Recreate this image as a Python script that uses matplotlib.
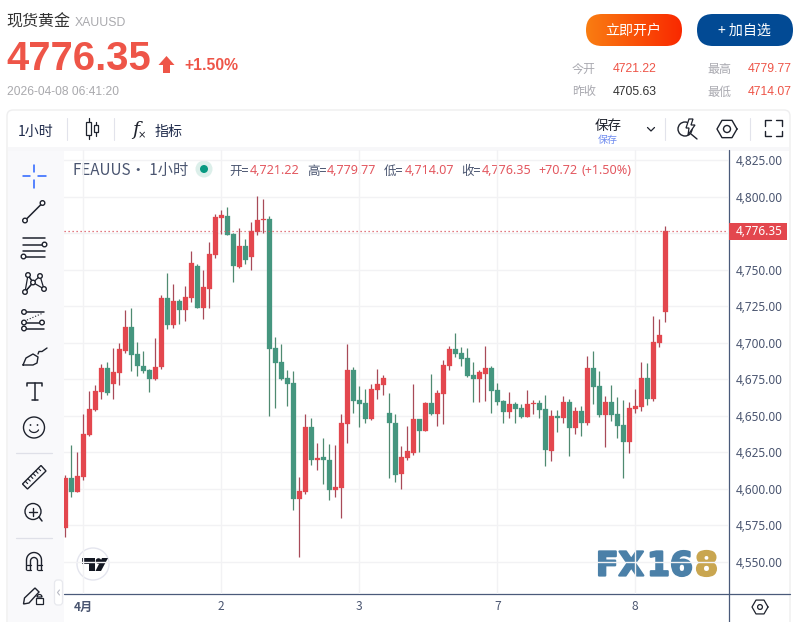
import numpy as np
import matplotlib
matplotlib.use("Agg")
import matplotlib.pyplot as plt
from matplotlib.patches import Circle, FancyBboxPatch, Polygon, Rectangle, Wedge
from matplotlib.ticker import FuncFormatter
from matplotlib.transforms import blended_transform_factory
import matplotlib.patheffects as pe

plt.rcParams['font.family'] = ['Noto Sans CJK SC', 'DejaVu Sans']

# hourly candles
opens = [4573.3, 4607.5, 4597.9, 4608.2, 4636.9, 4654.0, 4666.3, 4682.7, 4671.8, 4679.3,
         4694.4, 4710.8, 4692.3, 4684.1, 4681.4, 4675.2, 4683.4, 4730.6, 4712.1, 4728.6,
         4722.4, 4730.6, 4752.5, 4723.8, 4736.8, 4760.0, 4785.3, 4786.7, 4774.4, 4751.8,
         4766.2, 4758.7, 4775.8, 4784.0, 4784.6, 4696.4, 4686.8, 4675.9, 4672.5, 4593.1,
         4597.9, 4642.4, 4619.8, 4621.9, 4619.8, 4599.3, 4600.6, 4644.4, 4681.4, 4660.8,
         4658.8, 4647.8, 4667.7, 4671.1, 4651.9, 4645.1, 4610.2, 4621.2, 4624.6, 4647.8,
         4639.6, 4658.8, 4651.3, 4664.9, 4684.1, 4695.7, 4693.0, 4689.6, 4677.9, 4675.2,
         4678.6, 4682.7, 4667.7, 4660.2, 4652.6, 4658.1, 4655.4, 4649.2, 4658.1, 4658.8,
         4654.7, 4626.0, 4649.9, 4648.5, 4659.5, 4641.7, 4653.3, 4645.1, 4682.7, 4670.4,
         4650.6, 4659.5, 4651.3, 4643.7, 4632.1, 4654.7, 4656.1, 4675.9, 4661.5, 4699.8,
         4721.22]
highs = [4609.5, 4630.1, 4625.3, 4651.3, 4667.0, 4671.1, 4685.5, 4686.8, 4696.4, 4699.8,
         4722.4, 4723.8, 4700.5, 4694.4, 4682.0, 4703.2, 4732.7, 4747.7, 4740.2, 4729.9,
         4738.8, 4762.8, 4753.9, 4749.8, 4768.9, 4788.1, 4790.8, 4792.9, 4775.1, 4778.5,
         4771.0, 4782.6, 4800.4, 4798.3, 4786.7, 4703.9, 4699.1, 4681.4, 4680.7, 4608.2,
         4651.3, 4648.5, 4631.4, 4634.8, 4630.7, 4630.1, 4651.3, 4699.1, 4683.4, 4670.4,
         4668.4, 4671.8, 4682.0, 4677.9, 4665.6, 4651.3, 4629.4, 4643.1, 4671.8, 4647.8,
         4659.5, 4678.6, 4667.7, 4688.2, 4697.8, 4706.7, 4697.1, 4696.4, 4686.8, 4681.4,
         4697.8, 4684.1, 4672.5, 4660.8, 4666.3, 4659.5, 4658.1, 4667.7, 4660.8, 4660.8,
         4664.3, 4654.0, 4654.0, 4663.6, 4661.5, 4656.1, 4656.7, 4690.9, 4694.4, 4680.7,
         4663.6, 4671.1, 4662.9, 4660.8, 4659.5, 4668.4, 4686.8, 4686.1, 4718.3, 4716.2,
         4779.77]
lows = [4567.1, 4594.5, 4597.9, 4606.1, 4636.2, 4653.3, 4661.5, 4664.3, 4661.5, 4671.1,
        4693.0, 4680.7, 4677.3, 4679.3, 4666.3, 4674.5, 4682.0, 4709.4, 4710.1, 4712.8,
        4714.9, 4727.9, 4723.8, 4716.2, 4723.8, 4758.0, 4774.4, 4773.7, 4741.6, 4751.1,
        4753.9, 4749.8, 4773.7, 4775.1, 4649.9, 4655.4, 4674.5, 4656.7, 4585.6, 4553.5,
        4596.5, 4616.4, 4613.0, 4603.4, 4592.4, 4594.5, 4580.1, 4631.4, 4651.9, 4642.4,
        4645.1, 4647.2, 4661.5, 4664.3, 4607.5, 4604.8, 4600.0, 4619.8, 4623.2, 4625.3,
        4639.6, 4650.6, 4643.1, 4644.4, 4681.4, 4690.3, 4684.1, 4676.6, 4659.5, 4659.5,
        4660.2, 4651.9, 4657.4, 4645.1, 4648.5, 4645.1, 4648.5, 4649.2, 4651.3, 4648.5,
        4615.7, 4619.1, 4639.0, 4645.1, 4622.5, 4637.6, 4636.2, 4643.7, 4658.1, 4649.2,
        4628.7, 4646.5, 4634.8, 4607.5, 4624.6, 4651.9, 4653.3, 4657.4, 4660.2, 4697.1,
        4714.07]
closes = [4607.5, 4597.9, 4608.9, 4637.6, 4654.7, 4667.0, 4682.7, 4665.6, 4680.0, 4695.7,
          4710.8, 4691.6, 4684.1, 4680.7, 4675.2, 4683.4, 4730.6, 4712.1, 4728.6, 4722.4,
          4731.3, 4754.5, 4723.8, 4738.1, 4760.7, 4786.0, 4787.4, 4773.7, 4752.5, 4766.2,
          4756.6, 4776.4, 4784.0, 4784.6, 4695.7, 4686.1, 4675.2, 4671.8, 4593.1, 4598.6,
          4642.4, 4619.8, 4621.2, 4619.8, 4599.3, 4601.3, 4645.1, 4681.4, 4660.2, 4658.1,
          4647.8, 4668.4, 4671.8, 4675.9, 4645.1, 4609.5, 4621.9, 4626.0, 4647.8, 4639.6,
          4658.8, 4651.3, 4665.6, 4684.8, 4695.7, 4692.3, 4688.9, 4677.3, 4675.2, 4680.0,
          4682.7, 4667.0, 4659.5, 4652.6, 4658.1, 4654.7, 4649.2, 4658.1, 4658.8, 4654.0,
          4626.6, 4649.9, 4648.5, 4659.5, 4641.7, 4653.3, 4645.1, 4682.7, 4669.7, 4650.6,
          4659.5, 4650.6, 4643.1, 4632.1, 4655.4, 4656.7, 4675.9, 4661.5, 4700.5, 4705.6,
          4776.35]

price_ticks = [4550, 4575, 4600, 4625, 4650, 4675, 4700, 4725, 4750, 4775, 4800, 4825]
time_tick_pos = [3, 26, 49, 72, 95]
time_tick_labels = ['4月', '2', '3', '7', '8']

last_price = 4776.35

RED = '#e3474e'
GREEN = '#45967f'
RED_WICK = '#a84a58'
GREEN_WICK = '#4f8a70'
TEXT = '#4a5570'
ICON = '#1e222d'
GRID = '#f2f2f4'

fig = plt.figure(figsize=(8.01, 6.22), dpi=100, facecolor='white')

# page chrome is drawn on a full figure axes in pixel coordinates
bg = fig.add_axes([0, 0, 1, 1], zorder=0)
bg.set_xlim(0, 801)
bg.set_ylim(622, 0)
bg.axis('off')


def px(v):
    return v * 0.72


def line(xs, ys, color=ICON, lw=1.1, **kw):
    bg.plot(xs, ys, color=color, lw=lw, solid_capstyle='round', **kw)


def ring(x, y, r=2.3, color=ICON, lw=1.0):
    bg.add_patch(Circle((x, y), r, fc='white', ec=color, lw=lw, zorder=4))


# panel
bg.add_patch(FancyBboxPatch((7, 110), 783, 530, boxstyle='round,pad=0,rounding_size=6',
                            fc='white', ec='#eeeeef', lw=1))
bg.add_patch(Rectangle((8, 147), 781, 4, fc='#f7f7f9', ec='none'))
bg.add_patch(Rectangle((8, 151), 56, 471, fc='#f9f9fb', ec='none'))

# header
bg.text(6.5, 22, '现货黄金', fontsize=px(16), color='#333333', va='center')
bg.text(75, 23, 'XAUUSD', fontsize=px(12.2), color='#a9a9ad', va='center', family='Liberation Sans')
bg.text(6, 58.5, '4776.35', fontsize=px(40), color='#ee5548', fontweight='bold', va='center',
        family='Liberation Sans')
bg.add_patch(Polygon([(166.5, 56), (174.5, 65), (170, 65), (170, 73), (163, 73), (163, 65), (158.5, 65)],
                     fc='#ee5548', ec='none'))
bg.text(184, 66, '+1.50%', fontsize=px(15.8), color='#ee5548', fontweight='bold', va='center',
        family='Liberation Sans')
bg.text(7, 92, '2026-04-08 06:41:20', fontsize=px(12), color='#a9a9ad', va='center',
        family='Liberation Sans')

# buttons
btn = FancyBboxPatch((586, 14), 96, 32, boxstyle='round,pad=0,rounding_size=16', fc='none', ec='none')
bg.add_patch(btn)
grad = np.linspace(0, 1, 96)[None, :, None]
rgb = (1 - grad) * np.array([0.98, 0.49, 0.07]) + grad * np.array([0.98, 0.16, 0.0])
im = bg.imshow(rgb, extent=(586, 682, 46, 14), aspect='auto', zorder=1)
im.set_clip_path(btn)
bg.set_xlim(0, 801)
bg.set_ylim(622, 0)
bg.text(633.5, 31, '立即开户', fontsize=px(14), color='white', ha='center', va='center', zorder=3)
bg.add_patch(FancyBboxPatch((697, 14), 96, 32, boxstyle='round,pad=0,rounding_size=16', fc='#024a94', ec='none'))
bg.text(744.5, 31, '+ 加自选', fontsize=px(14), color='white', ha='center', va='center')

# quote table
for x, y, s in [(572, 69, '今开'), (707, 69, '最高'), (572, 92, '昨收'), (707, 92, '最低')]:
    bg.text(x, y, s, fontsize=px(12), color='#a9a9b0', va='center')
for x, y, s, c in [(613, 69, '4721.22', '#ee5548'), (748, 69, '4779.77', '#ee5548'),
                   (613, 92, '4705.63', '#333333'), (748, 92, '4714.07', '#ee5548')]:
    bg.text(x, y, s, fontsize=px(12.2), color=c, va='center', family='Liberation Sans')

# top toolbar
bg.text(18, 131.5, '1小时', fontsize=px(14), color='#1e2a4a', va='center')
for x in [67, 114, 665, 750]:
    line([x, x], [118, 140], color='#e2e3eb', lw=0.8)
for x, y0, y1, w0, w1 in [(88.5, 122, 135, 118, 139), (96, 125, 132, 122, 136)]:
    line([x, x], [w0, w1], lw=0.9)
    bg.add_patch(Rectangle((x - 2.3, y0), 4.6, y1 - y0, fc='white', ec=ICON, lw=0.9, zorder=3))
bg.text(132, 130, 'f', fontsize=px(19), color=ICON, style='italic', va='center', family='DejaVu Serif')
bg.text(138, 135, '×', fontsize=px(10), color=ICON, va='center', family='DejaVu Sans')
bg.text(155, 131.5, '指标', fontsize=px(14), color='#1e2a4a', va='center')
bg.text(595, 126, '保存', fontsize=px(13.5), color=ICON, va='center')
bg.text(598, 139.5, '保存', fontsize=px(10), color='#6f8cf0', va='center')
line([647.5, 651, 654.5], [127.5, 131, 127.5], lw=0.9)
ring(685, 129, 7, lw=1.0)
bg.add_patch(Polygon([(689, 119), (693, 119), (691, 125), (695, 125), (688, 135), (689, 128), (686, 128)],
                     fc='white', ec=ICON, lw=0.9, zorder=5))
line([691, 697], [134, 139], lw=1.0)
hex_t = np.radians(np.arange(0, 361, 60))
line(727 + 10 * np.cos(hex_t), 129 + 10 * np.sin(hex_t), lw=1.0)
bg.add_patch(Circle((727, 129), 3.5, fc='none', ec=ICON, lw=1.0))
for xs, ys in [([765, 765, 771], [126, 120, 120]), ([776, 782, 782], [120, 120, 126]),
               ([765, 765, 771], [131, 136, 136]), ([776, 782, 782], [136, 136, 131])]:
    line(xs, ys, lw=1.0)

# left drawing tools
BLUE = '#2962ff'
for xs, ys in [([23, 30], [176, 176]), ([38, 46], [176, 176]), ([34.3, 34.3], [165, 172]), ([34.3, 34.3], [180, 188])]:
    line(xs, ys, color=BLUE, lw=1.1)
line([25, 42.5], [220.5, 203])
ring(25, 220.5)
ring(42.5, 203)
for y, x0, x1 in [(238, 23, 45), (245, 23, 43), (250.5, 23, 45), (256.5, 25, 45)]:
    line([x0, x1], [y, y])
ring(44.5, 244.5)
ring(23.5, 256.5)
nodes = [(25, 292), (28, 275), (33, 282.5), (40, 276), (44, 289)]
line([p[0] for p in nodes] + [33, 25], [p[1] for p in nodes] + [282.5, 292], lw=0.9)
line([28, 33, 25], [275, 282.5, 292], lw=0.9)
for p in nodes:
    ring(p[0], p[1])
line([26, 44], [312, 312])
line([26, 44], [322.5, 322.5])
line([26, 44], [328.5, 328.5])
line([27, 43], [320, 313], lw=0.8, linestyle=':')
ring(24, 312)
ring(24, 322.5)
ring(42, 322.5)
ring(24, 328.5)
# brush
line([23, 26, 33, 38, 37, 33, 23], [365, 358, 354, 357, 363, 365, 365], lw=1.0)
line([38, 39, 42, 47], [354, 351.5, 351.5, 348], lw=1.0)
# text tool
line([27, 27, 42, 42], [386, 383, 383, 386])
line([34.5, 34.5], [383, 400])
line([31.5, 37.5], [400, 400])
bg.add_patch(Circle((34, 427.5), 10.5, fc='none', ec=ICON, lw=1.0))
bg.add_patch(Circle((30.5, 425), 0.9, fc=ICON, ec='none'))
bg.add_patch(Circle((37.5, 425), 0.9, fc=ICON, ec='none'))
a = np.radians(np.linspace(25, 155, 15))
line(34 + 5 * np.cos(a), 428 + 4.5 * np.sin(a), lw=0.9)
line([16, 52], [452.5, 452.5], color='#dfe0e8', lw=0.9)
bg.add_patch(Polygon([(22.5, 484), (41, 465.5), (46, 471), (27.5, 489)], fc='none', ec=ICON, lw=1.0))
for t in np.linspace(0.15, 0.85, 6):
    x0, y0 = 22.5 + t * 18.5, 484 - t * 18.5
    line([x0, x0 + 2.4], [y0, y0 + 2.4], lw=0.8)
bg.add_patch(Circle((33, 511.5), 8, fc='none', ec=ICON, lw=1.0))
line([39, 42], [517, 521])
line([29, 37], [511.5, 511.5], lw=1.0)
line([33, 33], [507.5, 515.5], lw=1.0)
line([16, 52], [537.5, 537.5], color='#dfe0e8', lw=0.9)
a = np.radians(np.linspace(180, 360, 20))
line(np.r_[26.5, 26.5 + 7.5 * (1 + np.cos(a)), 41.5], np.r_[570, 560 + 7.5 * np.sin(a), 570], lw=1.0)
line(np.r_[30.5, 30.5 + 3.5 * (1 + np.cos(a)), 37.5], np.r_[570, 561 + 3.5 * np.sin(a), 570], lw=1.0)
line([26.5, 30.5], [565, 565], lw=0.9)
line([37.5, 41.5], [565, 565], lw=0.9)
line([26.5, 30.5], [570, 570], lw=0.9)
line([37.5, 41.5], [570, 570], lw=0.9)
bg.add_patch(Polygon([(23.5, 604), (24.5, 598), (35, 588), (39, 592), (29, 603)], fc='none', ec=ICON, lw=1.0))
bg.add_patch(Rectangle((36, 598), 7, 6, fc='white', ec=ICON, lw=0.9, zorder=3))
bg.add_patch(Wedge((39.5, 597), 2.5, 180, 360, fc='none', ec=ICON, lw=0.9))
bg.add_patch(FancyBboxPatch((54.5, 580), 8, 25, boxstyle='round,pad=0,rounding_size=3', fc='white', ec='#e8e9ee', lw=0.9))
line([59.5, 57.5, 59.5], [590, 592.5, 595], color='#b8bac4', lw=0.8)

# price pane
left, right, top, bottom = 64, 728, 150, 594
ax = fig.add_axes([left / 801, 1 - bottom / 622, (right - left) / 801, (bottom - top) / 622], zorder=1)
ax.patch.set_alpha(0)

idx = np.arange(len(closes))
o, h, l, c = map(np.array, (opens, highs, lows, closes))
up = c >= o
for mask, col, wick in [(up, RED, RED_WICK), (~up, GREEN, GREEN_WICK)]:
    ax.vlines(idx[mask], l[mask], h[mask], color=wick, lw=0.9, zorder=2)
    ax.bar(idx[mask], np.abs(c - o)[mask], bottom=np.minimum(o, c)[mask], width=0.83,
           color=col, edgecolor=col, linewidth=0.2, zorder=3)

ax.axhline(last_price, color='#d9515c', lw=0.9, linestyle=(0, (1, 2.2)), zorder=4)

ax.set_xlim(-0.217, 110.45)
ax.set_ylim(4528.1, 4831.84)
ax.yaxis.tick_right()
ax.set_yticks(price_ticks)
# the 4,775 label sits under the last price tag
ax.yaxis.set_major_formatter(FuncFormatter(lambda v, _: '' if v == 4775 else f'{v:,.2f}'))
ax.set_xticks(time_tick_pos)
ax.set_xticklabels(time_tick_labels)
ax.grid(True, color=GRID, lw=1, zorder=0)
ax.set_axisbelow(True)
ax.tick_params(axis='y', length=0, pad=px(8), labelsize=px(11.8), labelcolor=TEXT)
ax.tick_params(axis='x', length=0, pad=px(6.5), labelsize=px(12), labelcolor=TEXT)
ax.get_xticklabels()[0].set_fontweight('bold')
for lab in ax.get_yticklabels():
    lab.set_family('Noto Sans')
for s in ax.spines.values():
    s.set_visible(False)

# last price tag on the scale
tag = blended_transform_factory(ax.transAxes, ax.transData)
ax.add_patch(Rectangle((1.0015, last_price - 5.8), 58 / 664, 11.6, transform=tag, fc='#e3474e', ec='none',
                       clip_on=False, zorder=5))
ax.annotate(f'{last_price:,.2f}', xy=(1, last_price), xycoords=tag, xytext=(px(8), 0),
            textcoords='offset points', va='center', ha='left', fontsize=px(11.8), color='white',
            fontweight='bold', family='Noto Sans', zorder=6)

# pane borders
line([64, 790], [593.5, 593.5], color='#4a5a7a', lw=0.9)
line([728.5, 728.5], [150, 622], color='#4a5a7a', lw=0.9)
line(760 + 8 * np.cos(hex_t), 607 + 8 * np.sin(hex_t), lw=0.9)
bg.add_patch(Circle((760, 607), 2.4, fc='none', ec=ICON, lw=0.9))

# legend row
bg.text(73, 170.5, 'FEAUUS· 1小时', fontsize=px(15.2), color=TEXT, va='center')
bg.add_patch(Circle((204, 169), 8.5, fc='#dcefea', ec='none'))
bg.add_patch(Circle((204, 169), 4, fc='#089981', ec='none'))
for x, s in [(229, '开='), (307, '高='), (384, '低='), (461, '收=')]:
    bg.text(x, 171, s, fontsize=px(12.5), color=TEXT, va='center')
for x, s in [(250, '4,721.22'), (327, '4,779.77'), (405, '4,714.07'), (482, '4,776.35'),
             (538, '+70.72'), (582, '(+1.50%)')]:
    bg.text(x, 171, s, fontsize=px(12.6), color='#e3575f', va='center', family='Noto Sans')

# TradingView badge
bg.add_patch(Circle((93, 564), 16, fc='white', ec='#e4e5ee', lw=1))
bg.add_patch(Polygon([(82, 558), (95, 558), (95, 571), (89, 571), (89, 563.5), (82, 563.5)], fc='#131722', ec='none'))
bg.add_patch(Circle((98.5, 561), 2.8, fc='#131722', ec='none'))
bg.add_patch(Polygon([(101, 571), (95.5, 571), (102, 558), (108, 558)], fc='#131722', ec='none'))

# FX168 watermark
for x, s, col in [(596, 'FX', '#4b80a8'), (647, '16', '#4b80a8'), (695, '8', '#c9a650')]:
    bg.text(x, 566, s, fontsize=px(33), color=col, fontweight='bold', va='center', family='DejaVu Sans',
            zorder=5, path_effects=[pe.withStroke(linewidth=1.6, foreground=col)])

fig.savefig('out.png', dpi=100, facecolor='white')
